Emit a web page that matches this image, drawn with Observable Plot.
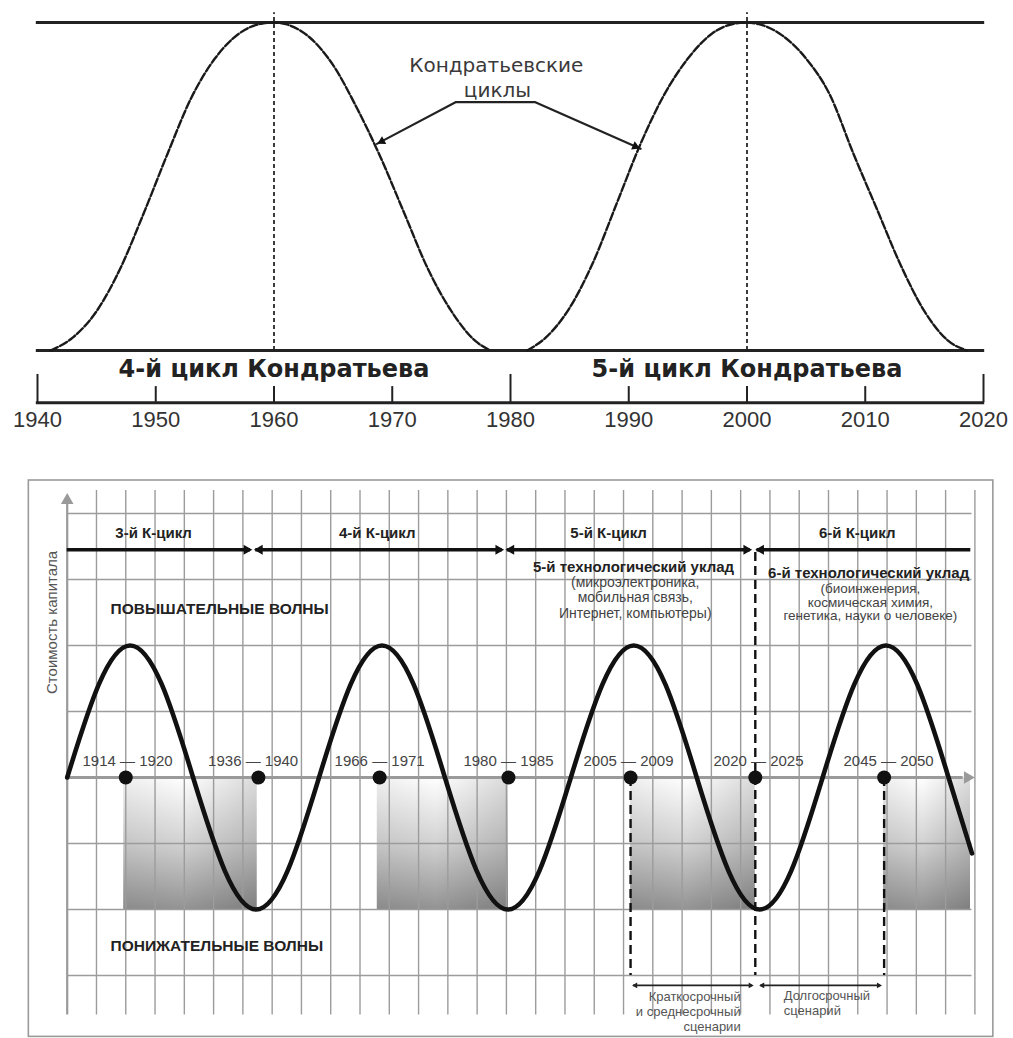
<!DOCTYPE html>
<html><head><meta charset="utf-8">
<script src="https://cdn.jsdelivr.net/npm/d3@7"></script>
<script src="https://cdn.jsdelivr.net/npm/@observablehq/plot@0.6"></script>
<style>body{margin:0;background:#fff} svg{display:block}</style>
</head><body><div id="chart"></div>
<script>
// ---------- TOP CHART DATA ----------
const cycle4Years  = [1941.1, 1943, 1945, 1947, 1949, 1951, 1953, 1955, 1957, 1959, 1960, 1961, 1963, 1965, 1967, 1969, 1971, 1973, 1975, 1977, 1978.3];
const cycle4Values = [0, 0.04, 0.12, 0.25, 0.42, 0.6, 0.77, 0.89, 0.965, 0.997, 1.0, 0.995, 0.955, 0.87, 0.74, 0.59, 0.42, 0.25, 0.12, 0.03, 0];
const cycle5Years  = [1981.4, 1983, 1985, 1987, 1989, 1991, 1993, 1995, 1997, 1999, 2000, 2001, 2003, 2005, 2007, 2009, 2011, 2013, 2015, 2017, 2018.6];
const cycle5Values = [0, 0.04, 0.13, 0.27, 0.45, 0.63, 0.78, 0.89, 0.965, 0.997, 1.0, 0.995, 0.96, 0.89, 0.78, 0.6, 0.43, 0.26, 0.12, 0.03, 0];
const tickYears = [1940, 1950, 1960, 1970, 1980, 1990, 2000, 2010, 2020];
const majorTickYears = [1940, 1980, 2020];
const peakYears = [1960, 2000];
const cycleNames = ["4-й цикл Кондратьева", "5-й цикл Кондратьева"];
const annotationLines = ["Кондратьевские", "циклы"];
const connectorYears  = [1968.7, 1975.35, 1982.1, 1991.0];
const connectorValues = [0.63, 0.757, 0.757, 0.615];

// ---------- BOTTOM CHART DATA ----------
const waveX = [0, 1.08, 2.15, 3.23, 4.3, 5.38, 6.45, 7.53, 8.6, 9.68, 10.75, 11.83, 12.9, 13.98, 15.05, 16.13, 17.2, 18.28, 19.35, 20.43, 21.5, 22.58, 23.65, 24.73, 25.8, 26.88, 27.95, 29.03, 30.1, 30.9];
const waveY = [0, 1.41, 2, 1.41, 0, -1.41, -2, -1.41, 0, 1.41, 2, 1.41, 0, -1.41, -2, -1.41, 0, 1.41, 2, 1.41, 0, -1.41, -2, -1.41, 0, 1.41, 2, 1.41, 0, -1.15];
const turnX = [2.0, 6.53, 10.67, 15.07, 19.24, 23.5, 27.9];
const turnLabelX = [2.06, 6.35, 10.67, 15.07, 19.17, 23.61, 28.05];
const turnLabels = ["1914 — 1920", "1936 — 1940", "1966 — 1971", "1980 — 1985", "2005 — 2009", "2020 — 2025", "2045 — 2050"];
const downStart = [1.93, 10.59, 19.24, 27.88];
const downEnd   = [6.49, 15.07, 23.5, 30.85];
const kNames  = ["3-й К-цикл", "4-й К-цикл", "5-й К-цикл", "6-й К-цикл"];
const kStart  = [0, 6.44, 15.03, 23.56];
const kEnd    = [6.26, 14.86, 23.33, 30.86];
const kLabelX = [2.95, 10.59, 18.49, 26.98];
const tech5 = ["5-й технологический уклад", "(микроэлектроника,", "мобильная связь,", "Интернет, компьютеры)"];
const tech6 = ["6-й технологический уклад", "(биоинженерия,", "космическая химия,", "генетика, науки о человеке)"];
const waveNames = ["ПОВЫШАТЕЛЬНЫЕ ВОЛНЫ", "ПОНИЖАТЕЛЬНЫЕ ВОЛНЫ"];
const yLabel = "Стоимость капитала";
const scenarioMarks = [19.24, 23.5, 27.9];
const shortScenario = ["Краткосрочный", "и среднесрочный", "сценарии"];
const longScenario = ["Долгосрочный", "сценарий"];

const FONT = "'Liberation Sans', Arial, Helvetica, sans-serif";
const WIDE = "'DejaVu Sans', Verdana, sans-serif";
const cycle4 = cycle4Years.map((x, i) => ({x, y: cycle4Values[i]}));
const cycle5 = cycle5Years.map((x, i) => ({x, y: cycle5Values[i]}));
const connector = connectorYears.map((x, i) => ({x, y: connectorValues[i]}));

const topPlot = Plot.plot({
  width: 1013, height: 440,
  marginLeft: 37, marginRight: 30, marginTop: 22, marginBottom: 90,
  x: {domain: [1940, 2020], axis: null},
  y: {domain: [0, 1], axis: null},
  style: {fontFamily: FONT, background: "white", overflow: "visible", color: "#222"},
  marks: [
    Plot.ruleX(peakYears, {x: d => d, y1: 0, y2: 1.03, stroke: "#333", strokeWidth: 1.9, strokeDasharray: "4,3"}),
    Plot.ruleY([0, 1], {y: d => d, x1: 1939.9, x2: 2020.1, stroke: "#222", strokeWidth: 3.2}),
    Plot.line(cycle4, {x: "x", y: "y", curve: "monotone-x", stroke: "#1a1a1a", strokeWidth: 2.4, strokeDasharray: "8,2.5"}),
    Plot.line(cycle5, {x: "x", y: "y", curve: "monotone-x", stroke: "#1a1a1a", strokeWidth: 2.4, strokeDasharray: "8,2.5"}),
    // annotation
    Plot.line(connector, {x: "x", y: "y", stroke: "#222", strokeWidth: 2.2}),
    Plot.dot([connector[0]], {x: "x", y: "y", symbol: "triangle2", r: 4.3, fill: "#111", stroke: "none", rotate: 242, dx: 5, dy: -2.5}),
    Plot.dot([connector[3]], {x: "x", y: "y", symbol: "triangle2", r: 4.3, fill: "#111", stroke: "none", rotate: 114, dx: -5.3, dy: -2.3}),
    Plot.text([annotationLines[0]], {x: 1978.8, y: 0.869, text: d => d, fontFamily: WIDE, fontSize: 20, fill: "#3a3a3a"}),
    Plot.text([annotationLines[1]], {x: 1978.9, y: 0.792, text: d => d, fontFamily: WIDE, fontSize: 20, fill: "#3a3a3a"}),
    // bottom axis
    Plot.ruleY([-0.159], {y: d => d, x1: 1939.9, x2: 2020.1, stroke: "#222", strokeWidth: 3}),
    Plot.ruleX(majorTickYears, {x: d => d, y1: -0.159, y2: -0.073, stroke: "#222", strokeWidth: 2}),
    Plot.ruleX(tickYears.filter(d => !majorTickYears.includes(d)), {x: d => d, y1: -0.159, y2: -0.11, stroke: "#222", strokeWidth: 2}),
    Plot.text(tickYears, {x: d => d, y: -0.212, text: d => String(d), fontSize: 22, fill: "#333"}),
    Plot.text(cycleNames, {x: (d, i) => peakYears[i], y: -0.058, text: d => d, fontFamily: WIDE, fontSize: 24, fontWeight: "bold", fill: "#222"})
  ]
});

// ---------- bottom ----------
const wave = waveX.map((x, i) => ({x, y: waveY[i]}));
const vGrid = d3.range(1, 32);
const hGrid = [-3, -2, -1, 1, 2, 3, 4];
const downs = downStart.map((s, i) => ({x1: s, x2: downEnd[i]}));
const kc = kNames.map((name, i) => ({name, x1: kStart[i], x2: kEnd[i], lx: kLabelX[i], i}));
const GRID = "#9c9c9c";

const botPlot = Plot.plot({
  width: 1013, height: 598,
  marginLeft: 66.7, marginRight: 38.6, marginTop: 73, marginBottom: 63,
  x: {domain: [0, 31], axis: null},
  y: {domain: [-3, 4], axis: null},
  style: {fontFamily: FONT, background: "white", overflow: "visible", color: "#222"},
  marks: [
    // outer frame
    Plot.rect([0], {x1: -1.31, x2: 31.63, y1: -3.93, y2: 4.5, fill: "none", stroke: "#9a9a9a", strokeWidth: 1.6}),
    // downswing shading
    Plot.rect(downs, {x1: "x1", x2: "x2", y1: 0, y2: -2, fill: "url(#vgrad)"}),
    Plot.rect(downs, {x1: "x1", x2: "x2", y1: 0, y2: -2, fill: "url(#hgrad)"}),
    // grid
    Plot.ruleX(vGrid, {x: d => d, y1: -3.6, y2: 4.35, stroke: GRID, strokeWidth: 1.4}),
    Plot.ruleY(hGrid, {y: d => d, x1: 0, x2: 30.9, stroke: GRID, strokeWidth: 1.4}),
    // axes
    Plot.ruleX([0], {x: d => d, y1: -3.6, y2: 4.15, stroke: "#9a9a9a", strokeWidth: 2.2}),
    Plot.dot([0], {x: 0, y: 4.2, symbol: "triangle2", r: 6, fill: "#9a9a9a", stroke: "none"}),
    Plot.ruleY([0], {y: d => d, x1: 0, x2: 30.6, stroke: "#9a9a9a", strokeWidth: 2.8}),
    Plot.dot([0], {x: 30.75, y: 0, symbol: "triangle2", r: 6, fill: "#9a9a9a", stroke: "none", rotate: 90}),
    // scenario dashed lines
    Plot.ruleX(scenarioMarks, {x: d => d, y1: (d, i) => i === 1 ? 3.41 : 0, y2: -3, stroke: "#111", strokeWidth: 2.4, strokeDasharray: "9,5"}),
    // wave
    Plot.line(wave, {x: "x", y: "y", curve: "natural", stroke: "#111", strokeWidth: 4.6}),
    Plot.dot(turnX, {x: d => d, y: 0, r: 7, fill: "#111", stroke: "none"}),
    Plot.text(turnLabels, {x: (d, i) => turnLabelX[i], y: 0, dy: -16, text: d => d, fontSize: 15, fill: "#444"}),
    // K-cycle arrows
    Plot.ruleY(kc, {y: 3.45, x1: "x1", x2: "x2", stroke: "#111", strokeWidth: 3.6}),
    Plot.dot(kc.filter(d => d.i < 3), {x: "x2", y: 3.45, symbol: "triangle2", r: 4.8, fill: "#111", stroke: "none", rotate: 90, dx: -4}),
    Plot.dot(kc.filter(d => d.i > 0), {x: "x1", y: 3.45, symbol: "triangle2", r: 4.8, fill: "#111", stroke: "none", rotate: -90, dx: 4}),
    Plot.text(kc, {x: "lx", y: 3.70, text: "name", fontSize: 15, fontWeight: "bold", fill: "#222"}),
    // technological modes
    Plot.text([tech5[0]], {x: 19.34, y: 3.19, text: d => d, fontSize: 15, fontWeight: "bold", fill: "#222"}),
    Plot.text(tech5.slice(1), {x: 19.4, y: (d, i) => [2.96, 2.73, 2.49][i], text: d => d, fontSize: 14, fill: "#444"}),
    Plot.text([tech6[0]], {x: 27.37, y: 3.09, text: d => d, fontSize: 15, fontWeight: "bold", fill: "#222"}),
    Plot.text(tech6.slice(1), {x: 27.43, y: (d, i) => [2.865, 2.655, 2.445][i], text: d => d, fontSize: 13.5, fill: "#444"}),
    // wave names
    Plot.text(waveNames, {x: 1.48, y: (d, i) => i === 0 ? 2.56 : -2.55, text: d => d, textAnchor: "start", fontSize: 15.5, fontWeight: "bold", fill: "#222"}),
    // y label
    Plot.text([yLabel], {x: -0.51, y: 2.35, text: d => d, rotate: -90, fontSize: 15, fill: "#555"}),
    // scenario arrows
    Plot.ruleY([[19.34, 23.4], [23.68, 27.78]], {y: -3.15, x1: d => d[0], x2: d => d[1], stroke: "#222", strokeWidth: 1.8}),
    Plot.dot([19.34, 23.68], {x: d => d, y: -3.15, symbol: "triangle2", r: 2.8, fill: "#222", stroke: "none", rotate: -90, dx: 2}),
    Plot.dot([23.4, 27.78], {x: d => d, y: -3.15, symbol: "triangle2", r: 2.8, fill: "#222", stroke: "none", rotate: 90, dx: -2}),
    Plot.text(shortScenario, {x: 23.0, y: (d, i) => [-3.33, -3.555, -3.78][i], text: d => d, textAnchor: "end", fontSize: 13, fill: "#555"}),
    Plot.text(longScenario, {x: 24.47, y: (d, i) => [-3.31, -3.535][i], text: d => d, textAnchor: "start", fontSize: 13, fill: "#555"})
  ]
});

d3.select(botPlot).insert("defs", ":first-child").html(
  `<linearGradient id="vgrad" x1="0" y1="0" x2="0" y2="1">
     <stop offset="0" stop-color="#ffffff"/>
     <stop offset="0.5" stop-color="#d2d2d2"/>
     <stop offset="1" stop-color="#939393"/>
   </linearGradient>
   <linearGradient id="hgrad" x1="0" y1="0" x2="1" y2="0">
     <stop offset="0" stop-color="#000" stop-opacity="0.06"/>
     <stop offset="0.45" stop-color="#000" stop-opacity="0"/>
     <stop offset="1" stop-color="#000" stop-opacity="0.14"/>
   </linearGradient>`
);

const root = document.getElementById("chart");
root.appendChild(topPlot);
root.appendChild(botPlot);
</script>
</body></html>
